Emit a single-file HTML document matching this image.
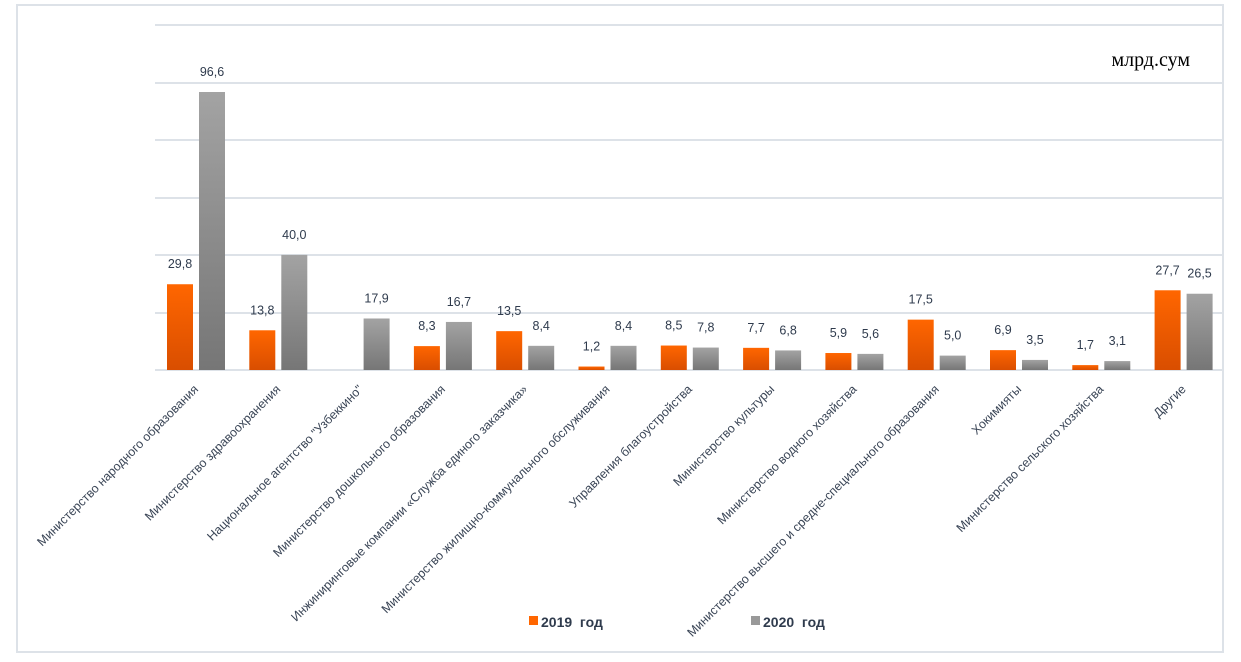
<!DOCTYPE html>
<html><head><meta charset="utf-8"><style>
html,body{margin:0;padding:0;background:#fff;}
svg{display:block;font-family:"Liberation Sans",Arial,sans-serif;}
</style></head><body>
<svg width="1241" height="662" viewBox="0 0 1241 662" xmlns="http://www.w3.org/2000/svg">
<defs>
<linearGradient id="o" x1="0" y1="0" x2="0" y2="1"><stop offset="0" stop-color="#ff6600"/><stop offset="1" stop-color="#d94e00"/></linearGradient>
<linearGradient id="g" x1="0" y1="0" x2="0" y2="1"><stop offset="0" stop-color="#a3a3a3"/><stop offset="1" stop-color="#767676"/></linearGradient>
</defs>
<rect x="17" y="5" width="1206" height="647" fill="#fff" stroke="#dde2e8" stroke-width="2"/>
<g stroke="#dde2e8" stroke-width="2">
<line x1="155" y1="25" x2="1222" y2="25"/>
<line x1="155" y1="83" x2="1222" y2="83"/>
<line x1="155" y1="140" x2="1222" y2="140"/>
<line x1="155" y1="198" x2="1222" y2="198"/>
<line x1="155" y1="255" x2="1222" y2="255"/>
<line x1="155" y1="313" x2="1222" y2="313"/>
<line x1="155" y1="370" x2="1222" y2="370"/>
</g>
<text x="1190" y="66" font-family="Liberation Serif,serif" font-size="20" text-anchor="end" fill="#000">млрд.сум</text>
<g id="bars" font-size="12.5" fill="#2f3b4d" text-anchor="middle"></g>
<g id="labels" font-size="12.4" fill="#3a4556"></g>
<rect x="529" y="616" width="9" height="9" fill="#ff6600"/>
<text x="541" y="627" font-size="14" font-weight="bold" fill="#2f3b4d">2019&#160;&#160;год</text>
<rect x="751" y="616" width="9" height="9" fill="#999"/>
<text x="763" y="627" font-size="14" font-weight="bold" fill="#2f3b4d">2020&#160;&#160;год</text>
</svg>
<script>
var d=[["Министерство народного образования",29.8,96.6],["Министерство здравоохранения",13.8,40.0],["Национальное агентство \"Узбеккино\"",0,17.9],["Министерство дошкольного образования",8.3,16.7],["Инжиниринговые компании «Служба единого заказчика»",13.5,8.4],["Министерство жилищно-коммунального обслуживания",1.2,8.4],["Управления благоустройства",8.5,7.8],["Министерство культуры",7.7,6.8],["Министерство водного хозяйства",5.9,5.6],["Министерство высшего и средне-специального образования",17.5,5.0],["Хокимияты",6.9,3.5],["Министерство сельского хозяйства",1.7,3.1],["Другие",27.7,26.5]];
var ns="http://www.w3.org/2000/svg",B=document.getElementById("bars"),L=document.getElementById("labels");
function el(t,a,p,txt){var e=document.createElementNS(ns,t);for(var k in a)e.setAttribute(k,a[k]);if(txt)e.textContent=txt;p.appendChild(e);}
var k=278/96.6;
d.forEach(function(r,i){var x0=167+i*82.3;
[[r[1],x0,"url(#o)"],[r[2],x0+32,"url(#g)"]].forEach(function(b){if(!b[0])return;var h=b[0]*k;
el("rect",{x:b[1],y:370-h,width:26,height:h,fill:b[2]},B);
el("text",{x:b[1]+13,y:370-h-16},B,b[0].toFixed(1).replace(".",","));});
var cx=x0+29;
el("text",{x:cx+3,y:390,"text-anchor":"end",transform:"rotate(-45 "+(cx+3)+" 390)"},L,r[0]);
});
</script>
</body></html>
